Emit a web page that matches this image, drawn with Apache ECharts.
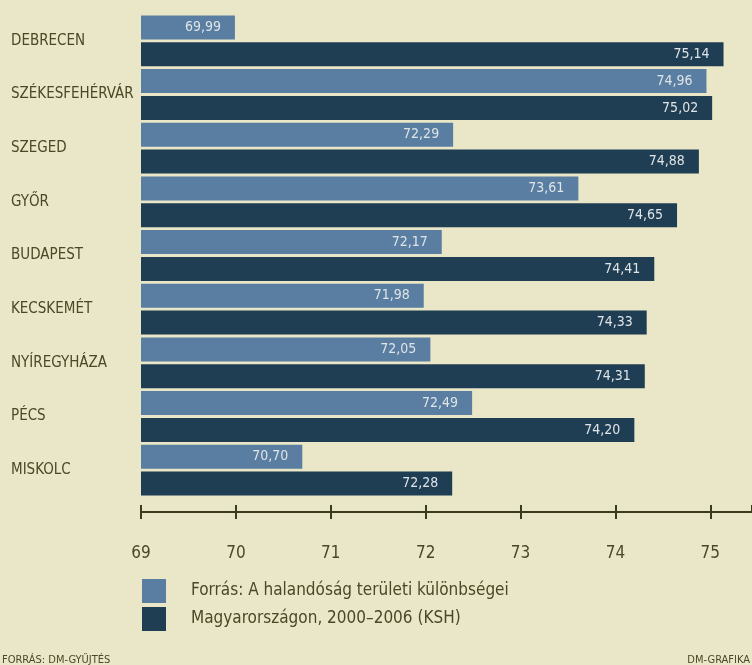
<!DOCTYPE html>
<html>
<head>
<meta charset="utf-8">
<script src="https://cdn.jsdelivr.net/npm/echarts@6/dist/echarts.min.js"></script>
<style>
html,body{margin:0;padding:0;background:#e9e7c7;}
#chart{width:752px;height:665px;}
</style>
</head>
<body>
<div id="chart"></div>
<script>
const categories = ['DEBRECEN','SZÉKESFEHÉRVÁR','SZEGED','GYŐR','BUDAPEST','KECSKEMÉT','NYÍREGYHÁZA','PÉCS','MISKOLC'];
const seriesLightName = 'Forrás: A halandóság területi különbségei';
const seriesDarkName = 'Magyarországon, 2000–2006 (KSH)';
const lightValues = [69.99, 74.96, 72.29, 73.61, 72.17, 71.98, 72.05, 72.49, 70.70];
const darkValues = [75.14, 75.02, 74.88, 74.65, 74.41, 74.33, 74.31, 74.20, 72.28];
const xMin = 69, xMax = 75.44, xInterval = 1;

const FONT = '"Liberation Sans Narrow","DejaVu Sans Condensed","Roboto Condensed",sans-serif';
const TEXT = '#4a4826';
const AXIS = '#3a3d1c';
const LIGHT = '#5a7ea2';
const DARK = '#1f3d53';

const chart = echarts.init(document.getElementById('chart'), null, {renderer:'canvas'});
const fmt = p => p.value.toFixed(2).replace('.', ',');
const tickFmt = v => (Math.abs(v - Math.round(v)) < 1e-6 ? String(Math.round(v)) : '');

chart.setOption({
  backgroundColor: '#e9e7c7',
  animation: false,
  grid: {left: 141, right: 0, top: 14, bottom: 168, containLabel: false},
  xAxis: [{
    type: 'value', min: xMin, max: xMax, interval: xInterval,
    position: 'bottom', offset: 15,
    axisLine: {show: true, lineStyle: {color: AXIS, width: 2}},
    axisTick: {show: true, inside: false, length: 7, lineStyle: {color: AXIS, width: 2}},
    axisLabel: {show: true, margin: 33, formatter: tickFmt, showMaxLabel: false,
      color: TEXT, fontFamily: FONT, fontSize: 17},
    splitLine: {show: false}
  }, {
    type: 'value', min: xMin, max: xMax, interval: xInterval,
    position: 'bottom', offset: 15,
    axisLine: {show: false},
    axisTick: {show: true, inside: true, length: 7, lineStyle: {color: AXIS, width: 2}},
    axisLabel: {show: false},
    splitLine: {show: false}
  }],
  yAxis: {
    type: 'category', data: categories, inverse: true,
    axisLine: {show: false}, axisTick: {show: false},
    axisLabel: {align: 'left', margin: 130, color: TEXT, fontFamily: FONT, fontSize: 15, fontWeight: 'normal'}
  },
  legend: {
    orient: 'vertical', left: 137, top: 574, itemWidth: 24, itemHeight: 24, itemGap: 4,
    icon: 'rect', selectedMode: false,
    textStyle: {color: TEXT, fontFamily: FONT, fontSize: 17, padding: [0,0,0,20]},
    data: [seriesLightName, seriesDarkName]
  },
  series: [{
    name: seriesLightName, type: 'bar', data: lightValues, xAxisIndex: 0,
    barWidth: 24, barGap: '12%',
    itemStyle: {color: LIGHT},
    label: {show: true, position: 'insideRight', distance: 14, formatter: fmt,
      color: '#dfe4e6', fontFamily: FONT, fontSize: 14}
  }, {
    name: seriesDarkName, type: 'bar', data: darkValues, xAxisIndex: 0,
    barWidth: 24, barGap: '12%',
    itemStyle: {color: DARK},
    label: {show: true, position: 'insideRight', distance: 14, formatter: fmt,
      color: '#dfe4e6', fontFamily: FONT, fontSize: 14}
  }],
  graphic: [
    {type: 'text', left: 2, top: 655, style: {text: 'FORRÁS: DM-GYŰJTÉS', fill: TEXT, font: '11px ' + FONT}},
    {type: 'text', right: 2, top: 655, style: {text: 'DM-GRAFIKA', fill: TEXT, font: '11px ' + FONT}}
  ]
});
</script>
</body>
</html>
